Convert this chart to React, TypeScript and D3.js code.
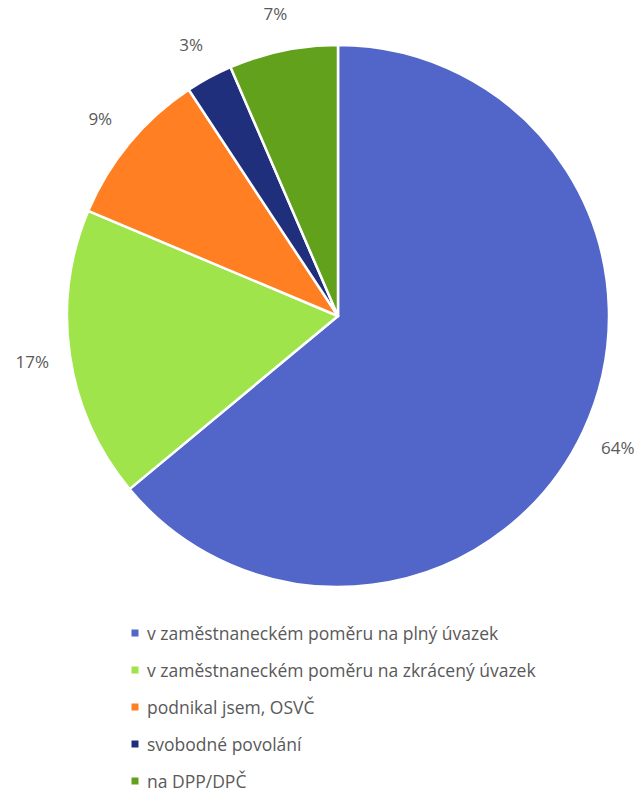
import React from "react";
import * as d3 from "d3";

const categories = [
  "v zaměstnaneckém poměru na plný úvazek",
  "v zaměstnaneckém poměru na zkrácený úvazek",
  "podnikal jsem, OSVČ",
  "svobodné povolání",
  "na DPP/DPČ",
];
const values = [64.1, 17.4, 9.4, 2.8, 6.5];
const labels = ["64%", "17%", "9%", "3%", "7%"];
const colors = ["#5166C8", "#A0E44C", "#FF7F22", "#1F2F7C", "#62A11C"];

const W = 643;
const H = 798;
const cx = 338;
const cy = 316;
const R = 271;
const labelR = 309;

export default function App() {
  const pie = d3
    .pie<number>()
    .sort(null)
    .value((d) => d)
    .startAngle(0)
    .endAngle(2 * Math.PI);
  const arcs = pie(values);
  const arc = d3.arc<d3.PieArcDatum<number>>().innerRadius(0).outerRadius(R);
  const labelArc = d3
    .arc<d3.PieArcDatum<number>>()
    .innerRadius(labelR)
    .outerRadius(labelR);

  const legendY = d3.scaleBand<number>().domain(d3.range(categories.length)).range([614.5, 799.5]);

  return (
    <svg
      width={W}
      height={H}
      style={{ position: "absolute", left: 0, top: 0, background: "#fff" }}
      fontFamily="'Open Sans', 'Noto Sans', sans-serif"
    >
      <g transform={`translate(${cx},${cy})`}>
        {arcs.map((a, i) => (
          <path key={i} d={arc(a) || ""} fill={colors[i]} stroke="#fff" strokeWidth={2.5} strokeLinejoin="round" />
        ))}
        {arcs.map((a, i) => {
          const [x, y] = labelArc.centroid(a);
          return (
            <text
              key={"l" + i}
              x={x}
              y={y}
              textAnchor="middle"
              dominantBaseline="central"
              fontSize={17}
              fill="#595959"
            >
              {labels[i]}
            </text>
          );
        })}
      </g>
      {categories.map((c, i) => {
        const y = (legendY(i) || 0) + legendY.bandwidth() / 2;
        return (
          <g key={"lg" + i}>
            <rect x={131.5} y={y - 3.5} width={7} height={7} fill={colors[i]} />
            <text x={147} y={y} dominantBaseline="central" fontSize={17.5} fill="#595959">
              {c}
            </text>
          </g>
        );
      })}
    </svg>
  );
}
